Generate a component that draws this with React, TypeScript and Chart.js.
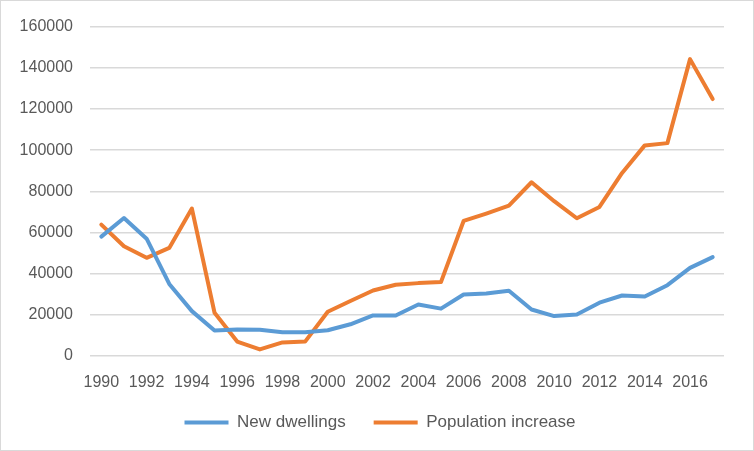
import React, { useEffect, useRef } from "react";
import { Chart, registerables } from "chart.js";

Chart.register(...registerables);

const years: string[] = [
  "1990", "1991", "1992", "1993", "1994", "1995", "1996", "1997", "1998", "1999",
  "2000", "2001", "2002", "2003", "2004", "2005", "2006", "2007", "2008", "2009",
  "2010", "2011", "2012", "2013", "2014", "2015", "2016", "2017",
];

const newDwellings: number[] = [
  58000, 67000, 57000, 35000, 21800, 12400, 12900, 12800, 11500, 11500,
  12500, 15400, 19700, 19700, 25000, 23000, 29900, 30400, 31700, 22600,
  19400, 20200, 25900, 29400, 28900, 34400, 42800, 48000,
];

const populationIncrease: number[] = [
  63800, 53300, 47700, 52500, 71600, 21000, 7000, 3200, 6600, 7000,
  21500, 26700, 31800, 34600, 35400, 35900, 65600, 69200, 73000, 84400,
  75200, 66900, 72400, 88900, 102300, 103400, 144200, 124800,
];

const seriesNames: string[] = ["New dwellings", "Population increase"];
const seriesColors: string[] = ["#5B9BD5", "#ED7D31"];

const FONT = "'Liberation Sans', Arial, sans-serif";
const TEXT = "#595959";

const borderPlugin = {
  id: "outerBorder",
  afterLayout(chart: any) {
    const lg = chart.legend;
    if (lg) {
      lg.left += 18;
      lg.right += 18;
      lg.top -= 10;
      lg.bottom -= 10;
    }
  },
  afterDraw(chart: any) {
    const { ctx, width, height } = chart;
    ctx.save();
    ctx.strokeStyle = "#D9D9D9";
    ctx.lineWidth = 1;
    ctx.strokeRect(0.5, 0.5, width - 1, height - 1);
    ctx.restore();
  },
};

export default function App() {
  const canvasRef = useRef<HTMLCanvasElement | null>(null);

  useEffect(() => {
    document.body.style.margin = "0";
    const canvas = canvasRef.current;
    if (!canvas) return;
    const chart = new Chart(canvas, {
      type: "line",
      data: {
        labels: years,
        datasets: [newDwellings, populationIncrease].map((d, i) => ({
          label: seriesNames[i],
          data: d,
          borderColor: seriesColors[i],
          backgroundColor: seriesColors[i],
          borderWidth: 4,
          pointRadius: 0,
          pointHoverRadius: 0,
          tension: 0,
          borderJoinStyle: "round" as const,
          borderCapStyle: "round" as const,
          fill: false,
        })),
      },
      options: {
        animation: false,
        responsive: false,
        maintainAspectRatio: false,
        layout: { padding: { top: 21, right: 30, left: 0, bottom: 0 } },
        plugins: {
          tooltip: { enabled: false },
          legend: {
            position: "bottom",
            labels: {
              color: TEXT,
              font: { family: FONT, size: 17 },
              boxWidth: 44,
              boxHeight: 4,
              padding: 28,
              generateLabels: (c: any) =>
                c.data.datasets.map((ds: any, i: number) => ({
                  text: ds.label,
                  fillStyle: ds.borderColor,
                  strokeStyle: ds.borderColor,
                  lineWidth: 0,
                  fontColor: TEXT,
                  hidden: false,
                  datasetIndex: i,
                })),
            },
          },
        },
        scales: {
          x: {
            offset: true,
            grid: { display: false, drawTicks: false },
            border: { display: false },
            ticks: {
              color: TEXT,
              font: { family: FONT, size: 16 },
              maxRotation: 0,
              autoSkip: false,
              padding: 17,
              callback: (_v: any, idx: number) => (idx % 2 === 0 ? years[idx] : ""),
            },
            afterFit: (scale: any) => {
              scale.height = 40;
            },
          },
          y: {
            min: 0,
            max: 160000,
            grid: { color: "#D9D9D9", lineWidth: 1.5, drawTicks: false },
            border: { display: false },
            ticks: {
              stepSize: 20000,
              color: TEXT,
              font: { family: FONT, size: 16 },
              padding: 17,
              callback: (v: any) => String(v),
            },
            afterFit: (scale: any) => {
              scale.width = 90;
            },
          },
        },
      },
      plugins: [borderPlugin],
    });
    return () => chart.destroy();
  }, []);

  return (
    <div style={{ width: 754, height: 451, background: "#fff" }}>
      <canvas ref={canvasRef} width={754} height={451} style={{ display: "block" }} />
    </div>
  );
}
